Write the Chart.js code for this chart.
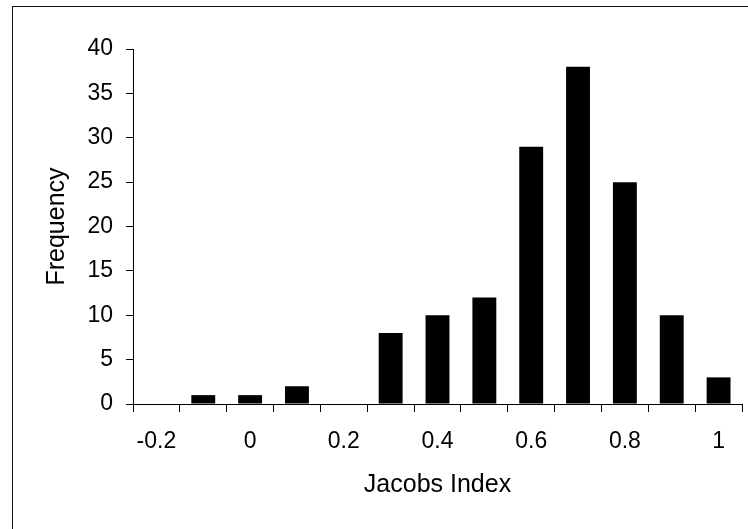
<!DOCTYPE html>
<html>
<head>
<meta charset="utf-8">
<script src="https://cdn.jsdelivr.net/npm/chart.js@4.4.1/dist/chart.umd.min.js"></script>
<style>
  html, body { margin: 0; padding: 0; background: #fff; }
  #wrap { position: relative; width: 748px; height: 529px; }
  #frame { position: absolute; left: 12px; top: 6px; right: -5px; bottom: -5px;
           border-left: 1.5px solid #111; border-top: 1.5px solid #111; }
  canvas { position: absolute; left: 0; top: 0; }
</style>
</head>
<body>
<div id="wrap">
  <div id="frame"></div>
  <canvas id="grafico" width="748" height="529"></canvas>
</div>
<script>
// categorias (classes do indice) e frequencias
const categorias = ['-0.2', '-0.1', '0', '0.1', '0.2', '0.3', '0.4', '0.5', '0.6', '0.7', '0.8', '0.9', '1'];
const frequencias = [0, 1, 1, 2, 0, 8, 10, 12, 29, 38, 25, 10, 3];
const ticksY = [0, 5, 10, 15, 20, 25, 30, 35, 40];

const fonte = 'Liberation Sans, Arial, sans-serif';

const grafico = document.getElementById('grafico');
new Chart(grafico, {
  type: 'bar',
  data: {
    labels: categorias,
    datasets: [{
      label: 'Frequency',
      data: frequencias,
      backgroundColor: '#000',
      borderWidth: 0,
      categoryPercentage: 1,
      barPercentage: 0.51
    }]
  },
  options: {
    responsive: false,
    animation: false,
    layout: { padding: { top: 49, right: 6, left: 0, bottom: 0 } },
    plugins: { legend: { display: false }, tooltip: { enabled: false } },
    scales: {
      x: {
        grid: { offset: true, drawOnChartArea: false, color: '#000', tickLength: 8, tickWidth: 1 },
        border: { color: '#000', width: 1 },
        ticks: {
          autoSkip: false,
          maxRotation: 0,
          padding: 16,
          color: '#000',
          font: { family: fonte, size: 23 },
          // só uma a cada duas classes tem rotulo
          callback: function(valor, indice) {
            return indice % 2 === 0 ? categorias[indice] : '';
          }
        },
        title: {
          display: true,
          text: 'Jacobs Index',
          color: '#000',
          font: { family: fonte, size: 25 },
          padding: { top: 0, bottom: 29 }
        },
        afterFit: function(escala) { escala.height = 125; }
      },
      y: {
        min: 0,
        max: 40,
        grid: { drawOnChartArea: false, color: '#000', tickLength: 7, tickWidth: 1 },
        border: { color: '#000', width: 1 },
        afterBuildTicks: function(escala) {
          escala.ticks = ticksY.map(v => ({ value: v }));
        },
        ticks: {
          padding: 13,
          color: '#000',
          font: { family: fonte, size: 23 }
        },
        title: {
          display: true,
          text: 'Frequency',
          color: '#000',
          font: { family: fonte, size: 25 },
          padding: { top: 42, bottom: 0 }
        },
        afterFit: function(escala) { escala.width = 133; }
      }
    }
  }
});
</script>
</body>
</html>
